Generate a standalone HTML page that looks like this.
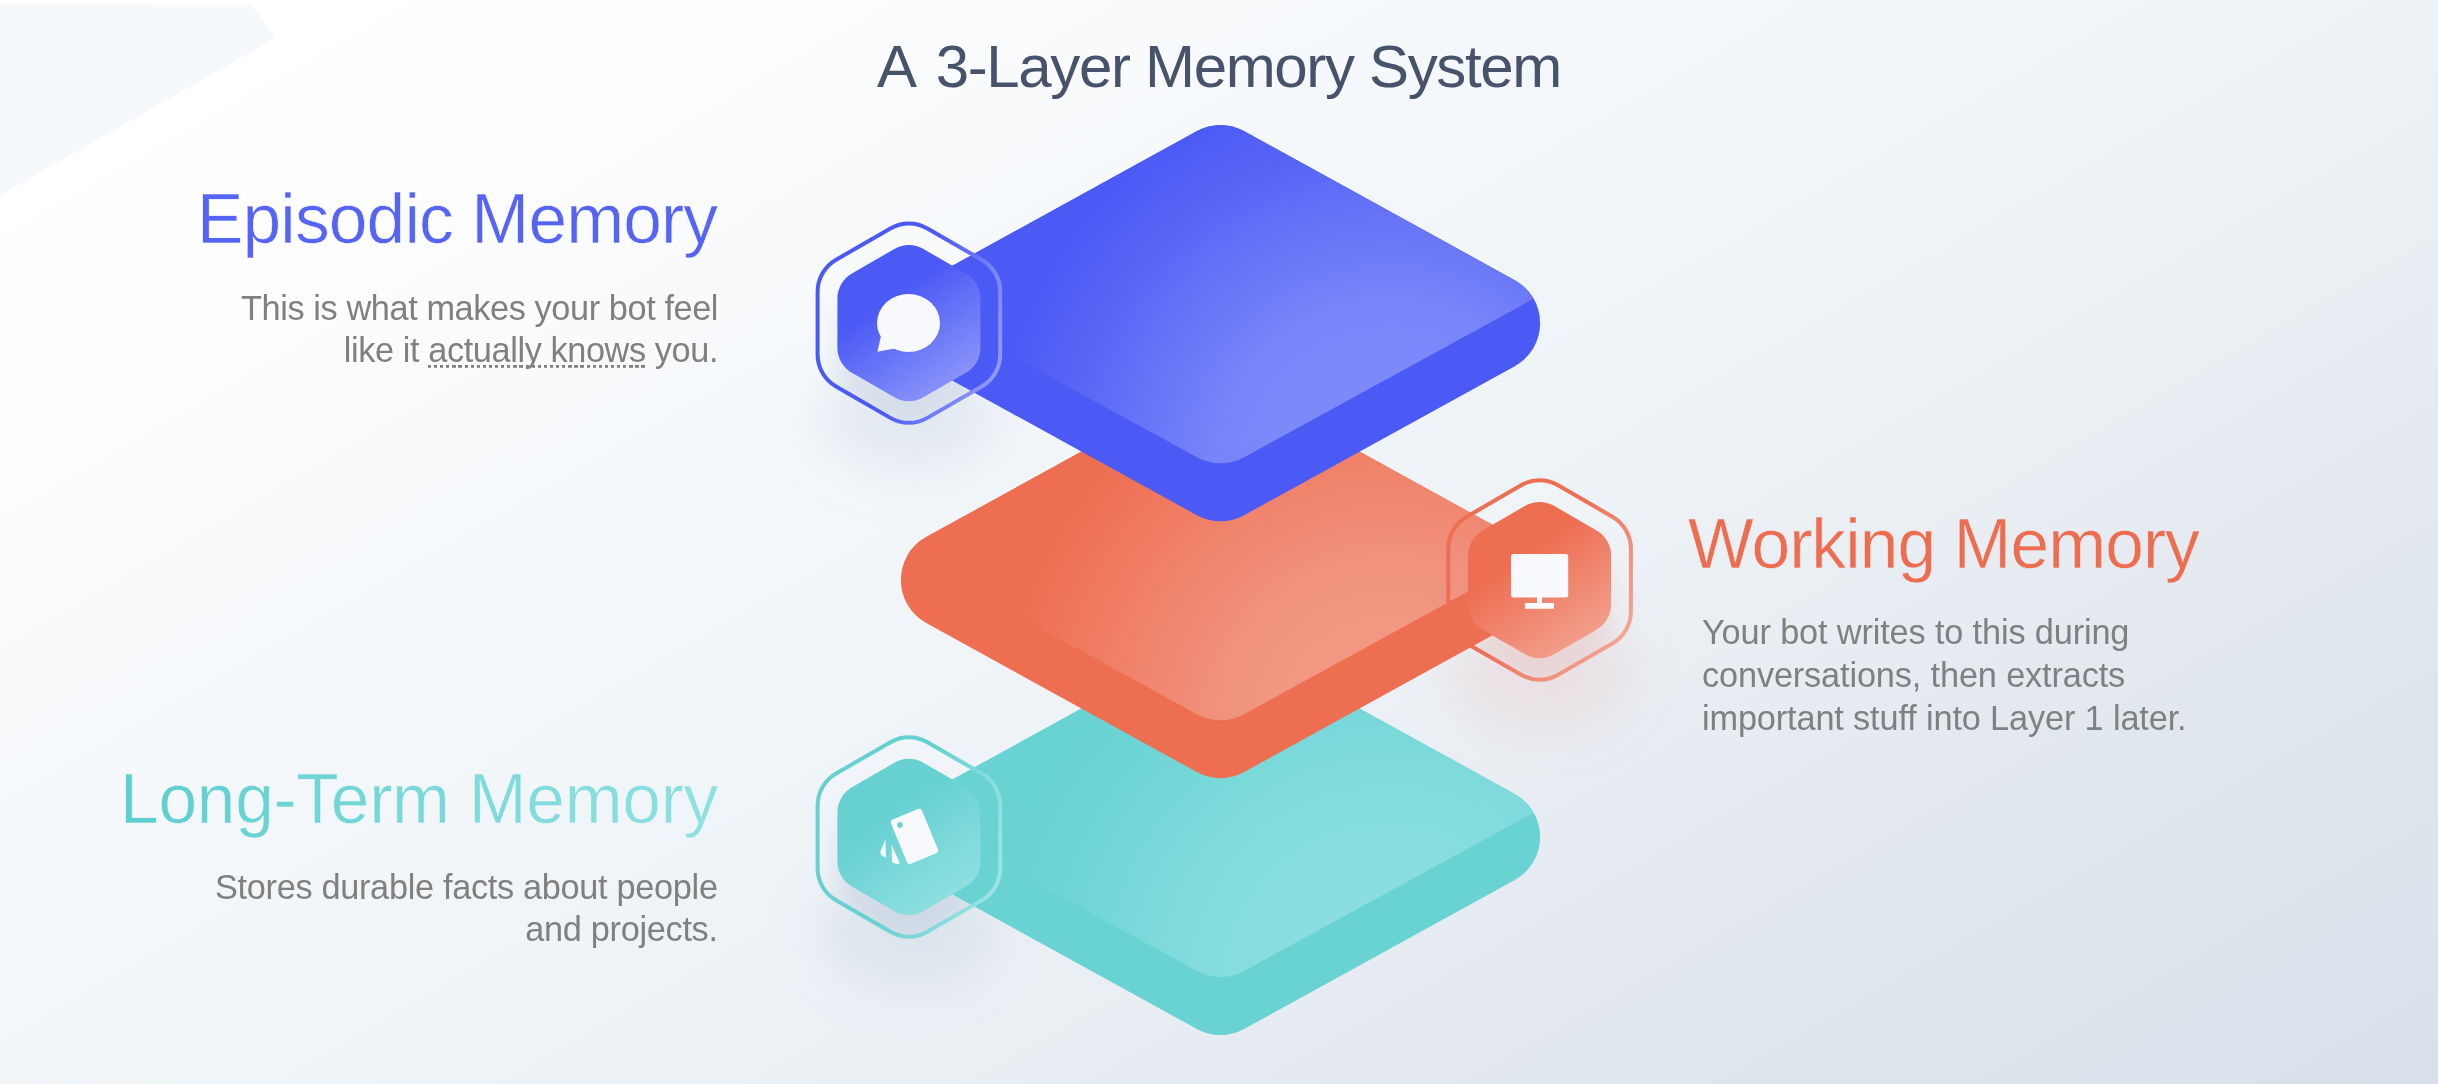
<!DOCTYPE html>
<html><head><meta charset="utf-8">
<style>
html,body{margin:0;padding:0}
body{width:2438px;height:1084px;overflow:hidden;position:relative;font-family:"Liberation Sans",sans-serif;
background:linear-gradient(150deg,#ffffff 0%,#fefeff 14%,#f8fafc 28%,#f2f6f9 43%,#edf2f6 57%,#e9eef3 66%,#e3e9ef 75%,#dde5ec 85%,#d8e1eb 100%);}
.t{position:absolute;white-space:nowrap;margin:0;will-change:transform}
.title{color:#47536b}
.b{color:#808080}
.r{text-align:right}
.g{-webkit-background-clip:text;background-clip:text;color:transparent}
.u{background-image:repeating-linear-gradient(90deg,#808080 0,#808080 3.2px,transparent 3.2px,transparent 6.1px);background-size:100% 2.8px;background-repeat:no-repeat;background-position:0 calc(50% + 16.2px)}
</style></head><body>
<svg width="2438" height="1084" viewBox="0 0 2438 1084" style="position:absolute;left:0;top:0">
<defs>
<filter id="blur30" x="-50%" y="-50%" width="200%" height="200%"><feGaussianBlur stdDeviation="26"/></filter>
<filter id="blur12" x="-50%" y="-50%" width="200%" height="200%"><feGaussianBlur stdDeviation="12"/></filter>
<linearGradient id="glass" x1="0" y1="0" x2="0" y2="1"><stop offset="0" stop-color="#ffffff" stop-opacity="0.16"/><stop offset="0.55" stop-color="#ffffff" stop-opacity="0.05"/><stop offset="1" stop-color="#ffffff" stop-opacity="0"/></linearGradient>
</defs>
<path d="M0 5 L252 5 L275 38 L0 195 Z" fill="#f5f9fc"/>
<defs>
<linearGradient id="ring1" gradientUnits="userSpaceOnUse" x1="817.9" y1="293.15000000000003" x2="999.9" y2="353.15000000000003"><stop offset="0" stop-color="#4b5af5"/><stop offset="0.5" stop-color="#4b5af5"/><stop offset="1" stop-color="#8e98fa"/></linearGradient>
<linearGradient id="hexfill1" gradientUnits="userSpaceOnUse" x1="868.9" y1="263.15000000000003" x2="953.9" y2="385.15000000000003"><stop offset="0" stop-color="#4b5af5"/><stop offset="0.28" stop-color="#4b5af5"/><stop offset="1" stop-color="#8a94fa"/></linearGradient>
<clipPath id="hexclip1"><path d="M890.40 228.41A37.00 37.00 0 0 1 927.40 228.41L981.70 259.76A37.00 37.00 0 0 1 1000.20 291.80L1000.20 354.50A37.00 37.00 0 0 1 981.70 386.54L927.40 417.89A37.00 37.00 0 0 1 890.40 417.89L836.10 386.54A37.00 37.00 0 0 1 817.60 354.50L817.60 291.80A37.00 37.00 0 0 1 836.10 259.76Z"/></clipPath>
<linearGradient id="ring2" gradientUnits="userSpaceOnUse" x1="1448.6" y1="520.05" x2="1630.6" y2="640.05"><stop offset="0" stop-color="#ee6e52"/><stop offset="0.45" stop-color="#ee6e52"/><stop offset="1" stop-color="#f4a898"/></linearGradient>
<linearGradient id="hexfill2" gradientUnits="userSpaceOnUse" x1="1499.6" y1="520.05" x2="1584.6" y2="642.05"><stop offset="0" stop-color="#ee6e52"/><stop offset="0.28" stop-color="#ee6e52"/><stop offset="1" stop-color="#f29f8c"/></linearGradient>
<clipPath id="hexclip2"><path d="M1521.10 485.31A37.00 37.00 0 0 1 1558.10 485.31L1612.40 516.66A37.00 37.00 0 0 1 1630.90 548.70L1630.90 611.40A37.00 37.00 0 0 1 1612.40 643.44L1558.10 674.79A37.00 37.00 0 0 1 1521.10 674.79L1466.80 643.44A37.00 37.00 0 0 1 1448.30 611.40L1448.30 548.70A37.00 37.00 0 0 1 1466.80 516.66Z"/></clipPath>
<linearGradient id="ring3" gradientUnits="userSpaceOnUse" x1="817.9" y1="806.95" x2="999.9" y2="866.95"><stop offset="0" stop-color="#67d1d2"/><stop offset="0.5" stop-color="#67d1d2"/><stop offset="1" stop-color="#9be3e4"/></linearGradient>
<linearGradient id="hexfill3" gradientUnits="userSpaceOnUse" x1="868.9" y1="776.95" x2="953.9" y2="898.95"><stop offset="0" stop-color="#67d1d2"/><stop offset="0.28" stop-color="#67d1d2"/><stop offset="1" stop-color="#8fdfe0"/></linearGradient>
<clipPath id="hexclip3"><path d="M890.40 742.21A37.00 37.00 0 0 1 927.40 742.21L981.70 773.56A37.00 37.00 0 0 1 1000.20 805.60L1000.20 868.30A37.00 37.00 0 0 1 981.70 900.34L927.40 931.69A37.00 37.00 0 0 1 890.40 931.69L836.10 900.34A37.00 37.00 0 0 1 817.60 868.30L817.60 805.60A37.00 37.00 0 0 1 836.10 773.56Z"/></clipPath>
</defs>
<ellipse cx="908.9" cy="415.15000000000003" rx="92" ry="58" fill="rgba(138,163,195,0.16)" filter="url(#blur30)"/>
<path d="M890.40 228.41A37.00 37.00 0 0 1 927.40 228.41L981.70 259.76A37.00 37.00 0 0 1 1000.20 291.80L1000.20 354.50A37.00 37.00 0 0 1 981.70 386.54L927.40 417.89A37.00 37.00 0 0 1 890.40 417.89L836.10 386.54A37.00 37.00 0 0 1 817.60 354.50L817.60 291.80A37.00 37.00 0 0 1 836.10 259.76Z" fill="url(#glass)"/>
<g clip-path="url(#hexclip1)"><path d="M894.40 248.96A29.00 29.00 0 0 1 923.40 248.96L965.90 273.50A29.00 29.00 0 0 1 980.40 298.61L980.40 347.69A29.00 29.00 0 0 1 965.90 372.80L923.40 397.34A29.00 29.00 0 0 1 894.40 397.34L851.90 372.80A29.00 29.00 0 0 1 837.40 347.69L837.40 298.61A29.00 29.00 0 0 1 851.90 273.50Z" transform="translate(0,26)" fill="rgba(138,163,195,0.18)" filter="url(#blur12)"/></g>
<ellipse cx="1539.6" cy="672.05" rx="92" ry="58" fill="rgba(230,150,140,0.16)" filter="url(#blur30)"/>
<path d="M1521.10 485.31A37.00 37.00 0 0 1 1558.10 485.31L1612.40 516.66A37.00 37.00 0 0 1 1630.90 548.70L1630.90 611.40A37.00 37.00 0 0 1 1612.40 643.44L1558.10 674.79A37.00 37.00 0 0 1 1521.10 674.79L1466.80 643.44A37.00 37.00 0 0 1 1448.30 611.40L1448.30 548.70A37.00 37.00 0 0 1 1466.80 516.66Z" fill="url(#glass)"/>
<g clip-path="url(#hexclip2)"><path d="M1525.10 505.86A29.00 29.00 0 0 1 1554.10 505.86L1596.60 530.40A29.00 29.00 0 0 1 1611.10 555.51L1611.10 604.59A29.00 29.00 0 0 1 1596.60 629.70L1554.10 654.24A29.00 29.00 0 0 1 1525.10 654.24L1482.60 629.70A29.00 29.00 0 0 1 1468.10 604.59L1468.10 555.51A29.00 29.00 0 0 1 1482.60 530.40Z" transform="translate(0,26)" fill="rgba(230,150,140,0.18)" filter="url(#blur12)"/></g>
<ellipse cx="908.9" cy="928.95" rx="92" ry="58" fill="rgba(138,163,195,0.16)" filter="url(#blur30)"/>
<path d="M890.40 742.21A37.00 37.00 0 0 1 927.40 742.21L981.70 773.56A37.00 37.00 0 0 1 1000.20 805.60L1000.20 868.30A37.00 37.00 0 0 1 981.70 900.34L927.40 931.69A37.00 37.00 0 0 1 890.40 931.69L836.10 900.34A37.00 37.00 0 0 1 817.60 868.30L817.60 805.60A37.00 37.00 0 0 1 836.10 773.56Z" fill="url(#glass)"/>
<g clip-path="url(#hexclip3)"><path d="M894.40 762.76A29.00 29.00 0 0 1 923.40 762.76L965.90 787.30A29.00 29.00 0 0 1 980.40 812.41L980.40 861.49A29.00 29.00 0 0 1 965.90 886.60L923.40 911.14A29.00 29.00 0 0 1 894.40 911.14L851.90 886.60A29.00 29.00 0 0 1 837.40 861.49L837.40 812.41A29.00 29.00 0 0 1 851.90 787.30Z" transform="translate(0,26)" fill="rgba(138,163,195,0.18)" filter="url(#blur12)"/></g>
<clipPath id="clip3"><path d="M1196.86 644.92A49.00 49.00 0 0 1 1244.14 644.92L1514.79 793.96A48.90 48.90 0 0 1 1540.10 836.80L1540.10 837.10A48.90 48.90 0 0 1 1514.79 879.94L1244.14 1028.98A49.00 49.00 0 0 1 1196.86 1028.98L926.21 879.94A48.90 48.90 0 0 1 900.90 837.10L900.90 836.80A48.90 48.90 0 0 1 926.21 793.96Z"/></clipPath>
<radialGradient id="face3" gradientUnits="userSpaceOnUse" cx="1390.5" cy="989.9" r="400"><stop offset="0" stop-color="#8bdfe0"/><stop offset="0.28" stop-color="#8adedf"/><stop offset="0.45" stop-color="#85dcdd"/><stop offset="0.63" stop-color="#7bd9da"/><stop offset="0.81" stop-color="#71d5d6"/><stop offset="0.95" stop-color="#6bd3d4"/><stop offset="1.0" stop-color="#69d2d3"/></radialGradient>
<path d="M1196.86 644.92A49.00 49.00 0 0 1 1244.14 644.92L1514.79 793.96A48.90 48.90 0 0 1 1540.10 836.80L1540.10 837.10A48.90 48.90 0 0 1 1514.79 879.94L1244.14 1028.98A49.00 49.00 0 0 1 1196.86 1028.98L926.21 879.94A48.90 48.90 0 0 1 900.90 837.10L900.90 836.80A48.90 48.90 0 0 1 926.21 793.96Z" fill="#69d2d3"/>
<path d="M1196.98 644.77A49.00 49.00 0 0 1 1244.02 644.77L1532.48 802.64A6.00 6.00 0 0 1 1532.48 813.16L1244.02 971.03A49.00 49.00 0 0 1 1196.98 971.03L908.52 813.16A6.00 6.00 0 0 1 908.52 802.64Z" fill="url(#face3)" clip-path="url(#clip3)"/>
<clipPath id="clip2"><path d="M1196.86 388.02A49.00 49.00 0 0 1 1244.14 388.02L1514.79 537.06A48.90 48.90 0 0 1 1540.10 579.90L1540.10 580.20A48.90 48.90 0 0 1 1514.79 623.04L1244.14 772.08A49.00 49.00 0 0 1 1196.86 772.08L926.21 623.04A48.90 48.90 0 0 1 900.90 580.20L900.90 579.90A48.90 48.90 0 0 1 926.21 537.06Z"/></clipPath>
<radialGradient id="face2" gradientUnits="userSpaceOnUse" cx="1390.5" cy="733.0" r="400"><stop offset="0" stop-color="#f19984"/><stop offset="0.28" stop-color="#f19782"/><stop offset="0.45" stop-color="#f0917c"/><stop offset="0.63" stop-color="#f0856d"/><stop offset="0.81" stop-color="#ef795e"/><stop offset="0.95" stop-color="#ee7055"/><stop offset="1.0" stop-color="#ee6e52"/></radialGradient>
<path d="M1196.86 388.02A49.00 49.00 0 0 1 1244.14 388.02L1514.79 537.06A48.90 48.90 0 0 1 1540.10 579.90L1540.10 580.20A48.90 48.90 0 0 1 1514.79 623.04L1244.14 772.08A49.00 49.00 0 0 1 1196.86 772.08L926.21 623.04A48.90 48.90 0 0 1 900.90 580.20L900.90 579.90A48.90 48.90 0 0 1 926.21 537.06Z" fill="#ee6e52"/>
<path d="M1196.98 387.87A49.00 49.00 0 0 1 1244.02 387.87L1532.48 545.74A6.00 6.00 0 0 1 1532.48 556.26L1244.02 714.13A49.00 49.00 0 0 1 1196.98 714.13L908.52 556.26A6.00 6.00 0 0 1 908.52 545.74Z" fill="url(#face2)" clip-path="url(#clip2)"/>
<clipPath id="clip1"><path d="M1196.86 131.12A49.00 49.00 0 0 1 1244.14 131.12L1514.79 280.16A48.90 48.90 0 0 1 1540.10 323.00L1540.10 323.30A48.90 48.90 0 0 1 1514.79 366.14L1244.14 515.18A49.00 49.00 0 0 1 1196.86 515.18L926.21 366.14A48.90 48.90 0 0 1 900.90 323.30L900.90 323.00A48.90 48.90 0 0 1 926.21 280.16Z"/></clipPath>
<radialGradient id="face1" gradientUnits="userSpaceOnUse" cx="1390.5" cy="476.1" r="400"><stop offset="0" stop-color="#808bf9"/><stop offset="0.28" stop-color="#7e89f9"/><stop offset="0.45" stop-color="#7783f8"/><stop offset="0.63" stop-color="#6875f7"/><stop offset="0.81" stop-color="#5866f6"/><stop offset="0.95" stop-color="#4e5df5"/><stop offset="1.0" stop-color="#4b5af5"/></radialGradient>
<path d="M1196.86 131.12A49.00 49.00 0 0 1 1244.14 131.12L1514.79 280.16A48.90 48.90 0 0 1 1540.10 323.00L1540.10 323.30A48.90 48.90 0 0 1 1514.79 366.14L1244.14 515.18A49.00 49.00 0 0 1 1196.86 515.18L926.21 366.14A48.90 48.90 0 0 1 900.90 323.30L900.90 323.00A48.90 48.90 0 0 1 926.21 280.16Z" fill="#4b5af5"/>
<path d="M1196.98 130.97A49.00 49.00 0 0 1 1244.02 130.97L1532.48 288.84A6.00 6.00 0 0 1 1532.48 299.36L1244.02 457.23A49.00 49.00 0 0 1 1196.98 457.23L908.52 299.36A6.00 6.00 0 0 1 908.52 288.84Z" fill="url(#face1)" clip-path="url(#clip1)"/>
<path d="M894.40 248.96A29.00 29.00 0 0 1 923.40 248.96L965.90 273.50A29.00 29.00 0 0 1 980.40 298.61L980.40 347.69A29.00 29.00 0 0 1 965.90 372.80L923.40 397.34A29.00 29.00 0 0 1 894.40 397.34L851.90 372.80A29.00 29.00 0 0 1 837.40 347.69L837.40 298.61A29.00 29.00 0 0 1 851.90 273.50Z" fill="url(#hexfill1)"/>
<path d="M890.40 228.41A37.00 37.00 0 0 1 927.40 228.41L981.70 259.76A37.00 37.00 0 0 1 1000.20 291.80L1000.20 354.50A37.00 37.00 0 0 1 981.70 386.54L927.40 417.89A37.00 37.00 0 0 1 890.40 417.89L836.10 386.54A37.00 37.00 0 0 1 817.60 354.50L817.60 291.80A37.00 37.00 0 0 1 836.10 259.76Z" fill="none" stroke="url(#ring1)" stroke-width="4"/>
<path d="M1525.10 505.86A29.00 29.00 0 0 1 1554.10 505.86L1596.60 530.40A29.00 29.00 0 0 1 1611.10 555.51L1611.10 604.59A29.00 29.00 0 0 1 1596.60 629.70L1554.10 654.24A29.00 29.00 0 0 1 1525.10 654.24L1482.60 629.70A29.00 29.00 0 0 1 1468.10 604.59L1468.10 555.51A29.00 29.00 0 0 1 1482.60 530.40Z" fill="url(#hexfill2)"/>
<path d="M1521.10 485.31A37.00 37.00 0 0 1 1558.10 485.31L1612.40 516.66A37.00 37.00 0 0 1 1630.90 548.70L1630.90 611.40A37.00 37.00 0 0 1 1612.40 643.44L1558.10 674.79A37.00 37.00 0 0 1 1521.10 674.79L1466.80 643.44A37.00 37.00 0 0 1 1448.30 611.40L1448.30 548.70A37.00 37.00 0 0 1 1466.80 516.66Z" fill="none" stroke="url(#ring2)" stroke-width="4"/>
<path d="M894.40 762.76A29.00 29.00 0 0 1 923.40 762.76L965.90 787.30A29.00 29.00 0 0 1 980.40 812.41L980.40 861.49A29.00 29.00 0 0 1 965.90 886.60L923.40 911.14A29.00 29.00 0 0 1 894.40 911.14L851.90 886.60A29.00 29.00 0 0 1 837.40 861.49L837.40 812.41A29.00 29.00 0 0 1 851.90 787.30Z" fill="url(#hexfill3)"/>
<path d="M890.40 742.21A37.00 37.00 0 0 1 927.40 742.21L981.70 773.56A37.00 37.00 0 0 1 1000.20 805.60L1000.20 868.30A37.00 37.00 0 0 1 981.70 900.34L927.40 931.69A37.00 37.00 0 0 1 890.40 931.69L836.10 900.34A37.00 37.00 0 0 1 817.60 868.30L817.60 805.60A37.00 37.00 0 0 1 836.10 773.56Z" fill="none" stroke="url(#ring3)" stroke-width="4"/>
<g fill="#f7f9fc"><ellipse cx="908.5" cy="323" rx="31.5" ry="29"/><path d="M881 336 L877.4 351.8 L895 348.5 Z"/></g>
<g fill="#f7f9fc"><rect x="1511" y="554" width="57.2" height="43.5" rx="2.5"/><rect x="1537" y="596" width="5" height="8"/><rect x="1525" y="603" width="29" height="5.7" rx="0.5"/></g>
<g fill="#f7f9fc"><g transform="translate(889.9 820.6) rotate(-22.3)"><path fill-rule="evenodd" d="M3 0 H30.5 a3 3 0 0 1 3 3 V44.8 a3 3 0 0 1 -3 3 H3 a3 3 0 0 1 -3 -3 V3 a3 3 0 0 1 3 -3 Z M7.6 4.8 a3 3 0 1 0 0.01 0 Z"/></g><path d="M885.4 839.5 L886 856.8 Q883 857.5 880.6 854 Q880 852.5 880.6 851 Z"/><path d="M891.6 844.5 L899.8 863.6 Q896 864.6 893.2 862.8 Q892 862 891.9 860.5 Z"/></g>
</svg>
<div class="t title" id="title" style="left:877.0px;top:32.10px;font-size:60.0px;line-height:70px;letter-spacing:-1.34px;">A<span style="word-spacing:4.6px"> </span>3-Layer Memory System</div>
<div class="t h r" id="h1" style="right:1721.2px;top:178.80px;font-size:69.5px;line-height:80px;letter-spacing:-0.85px;color:#5564f5;-webkit-text-stroke:0.6px #fcfdfe;">Episodic Memory</div>
<div class="t b r" id="b1" style="right:1720.4px;top:287.96px;font-size:34.3px;line-height:41.7px;letter-spacing:-0.4px;">This is what makes your bot feel<br>like it <span class="u">actually knows</span> you.</div>
<div class="t h" id="h2" style="left:1688.2px;top:504.00px;font-size:69.5px;line-height:80px;letter-spacing:-0.93px;color:#ee6c50;-webkit-text-stroke:0.5px #e9edf3;">Working Memory</div>
<div class="t b" id="b2" style="left:1701.7px;top:611.11px;font-size:34.3px;line-height:43.0px;letter-spacing:-0.14px;">Your bot writes to this during<br>conversations, then extracts<br>important stuff into Layer 1 later.</div>
<div class="t h r" id="h3" style="right:1719.6px;top:758.80px;font-size:69.5px;line-height:80px;letter-spacing:-0.29px;-webkit-text-stroke:0.6px #f3f6f9;"><span style="color:#5fcfd0">L</span><span style="color:#62d0d1">o</span><span style="color:#65d1d2">n</span><span style="color:#69d2d3">g</span><span style="color:#6cd4d5">-</span><span style="color:#6fd5d6">T</span><span style="color:#72d6d7">e</span><span style="color:#75d7d8">r</span><span style="color:#79d8d9">m</span><span style="color:#7cd9da"> </span><span style="color:#7fdadb">M</span><span style="color:#82dbdc">e</span><span style="color:#85ddde">m</span><span style="color:#89dedf">o</span><span style="color:#8cdfe0">r</span><span style="color:#8fe0e1">y</span></div>
<div class="t b r" id="b3" style="right:1720.2px;top:865.91px;font-size:34.3px;line-height:42.0px;letter-spacing:-0.31px;">Stores durable facts about people<br>and projects.</div>
</body></html>
